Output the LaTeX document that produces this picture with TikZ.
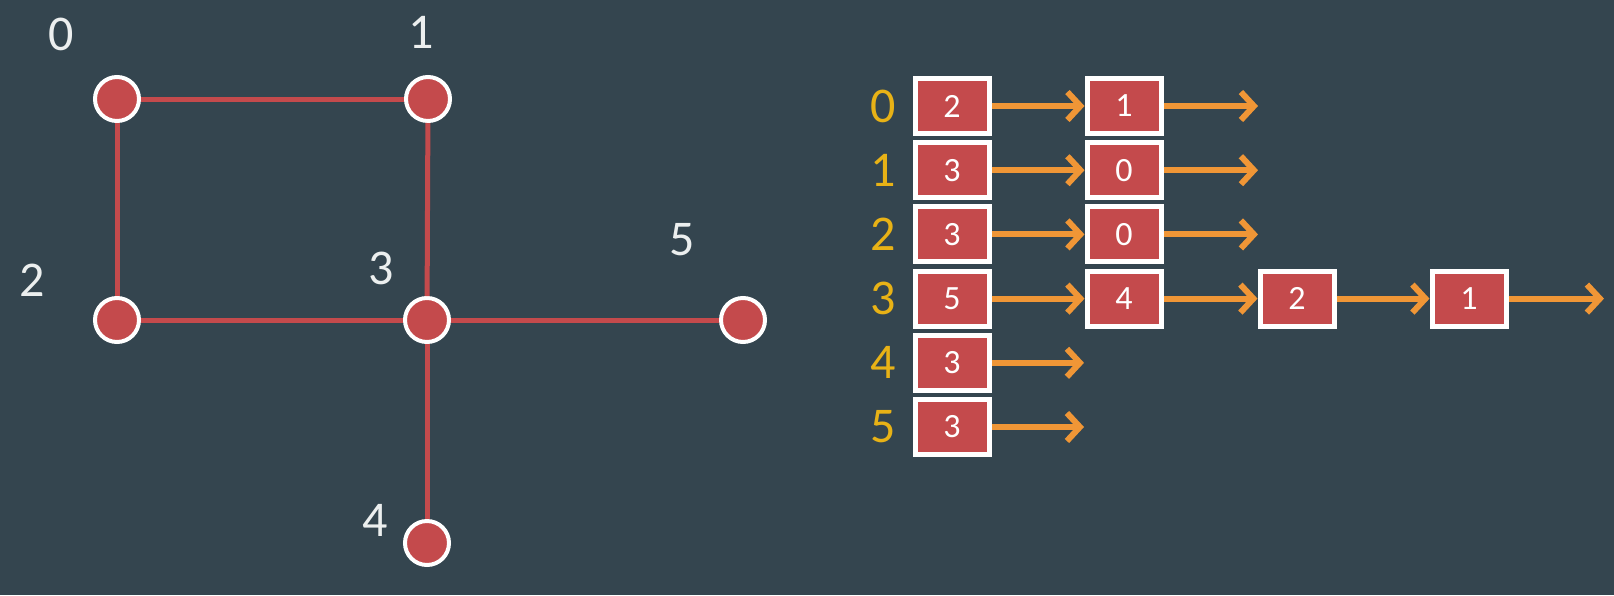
\documentclass[tikz,border=0pt]{standalone}
\usepackage{fontspec}
\setmainfont{Carlito}
\usetikzlibrary{positioning,arrows.meta}
\definecolor{bgslate}{RGB}{52,69,79}
\definecolor{nodered}{RGB}{196,74,76}
\definecolor{arroworange}{RGB}{240,150,54}
\definecolor{idxyellow}{RGB}{232,178,22}
\definecolor{labelwhite}{RGB}{236,239,239}

\begin{document}
\begin{tikzpicture}[x=1pt,y=-1pt,
  vertex/.style={circle,fill=nodered,draw=white,line width=4pt,minimum size=44pt,inner sep=0pt},
  edge/.style={nodered,line width=5pt},
  vlabel/.style={text=labelwhite,font=\fontsize{50}{60}\selectfont,inner sep=0pt},
  cell/.style={rectangle,fill=nodered,draw=white,line width=5pt,minimum width=74pt,minimum height=55pt,inner sep=0pt,text=white,font=\fontsize{34}{40}\selectfont},
  idx/.style={text=idxyellow,font=\fontsize{50}{60}\selectfont,inner sep=0pt},
  link/.style={arroworange,line width=6pt,-{Straight Barb[length=13pt,width=28pt]}}]
\fill [bgslate] (0,0) rectangle (1614,595);
\useasboundingbox (0,0) rectangle (1614,595);
\node [vertex] (v0) at (117,99) {};
\node [vertex] (v1) at (428,99) {};
\node [vertex] (v2) at (117,320) {};
\node [vertex] (v3) at (427,320) {};
\node [vertex] (v4) at (427,543) {};
\node [vertex] (v5) at (743,320) {};
\node [vlabel] (l0) at (61,34) {0};
\node [vlabel] (l1) at (421,32) {1};
\node [vlabel] (l2) at (32,280) {2};
\node [vlabel] (l3) at (381,268) {3};
\node [vlabel] (l4) at (375,520) {4};
\node [vlabel] (l5) at (682,240) {5};
\draw [edge] (v0) -- (v1);
\draw [edge] (v0) -- (v2);
\draw [edge] (v1) -- (v3);
\draw [edge] (v2) -- (v3);
\draw [edge] (v3) -- (v5);
\draw [edge] (v3) -- (v4);
\node [idx] (i0) at (883,106) {0};
\node [idx] (i1) at (883,170.2) {1};
\node [idx] (i2) at (883,234.4) {2};
\node [idx] (i3) at (883,298.6) {3};
\node [idx] (i4) at (883,362.8) {4};
\node [idx] (i5) at (883,427) {5};
\node [cell] (h0) at (952,106) {2};
\node [cell] (h1) at (952,170.2) {3};
\node [cell] (h2) at (952,234.4) {3};
\node [cell] (h3) at (952,298.6) {5};
\node [cell] (h4) at (952,362.8) {3};
\node [cell] (h5) at (952,427) {3};
\node [cell] (a0) at (1124,106) {1};
\node [cell] (a1) at (1124,170.2) {0};
\node [cell] (a2) at (1124,234.4) {0};
\node [cell] (a3) at (1124,298.6) {4};
\node [cell] (b3) at (1297,298.6) {2};
\node [cell] (c3) at (1469,298.6) {1};
\coordinate (e0) at (1258,106);
\coordinate (e1) at (1258,170.2);
\coordinate (e2) at (1258,234.4);
\coordinate (e3) at (1604,298.6);
\coordinate (e4) at (1084,362.8);
\coordinate (e5) at (1084,427);
\draw [link] (h0) -- (a0);
\draw [link] (a0) -- (e0);
\draw [link] (h1) -- (a1);
\draw [link] (a1) -- (e1);
\draw [link] (h2) -- (a2);
\draw [link] (a2) -- (e2);
\draw [link] (h3) -- (a3);
\draw [link] (a3) -- (b3);
\draw [link] (b3) -- (c3);
\draw [link] (c3) -- (e3);
\draw [link] (h4) -- (e4);
\draw [link] (h5) -- (e5);
\end{tikzpicture}
\end{document}
